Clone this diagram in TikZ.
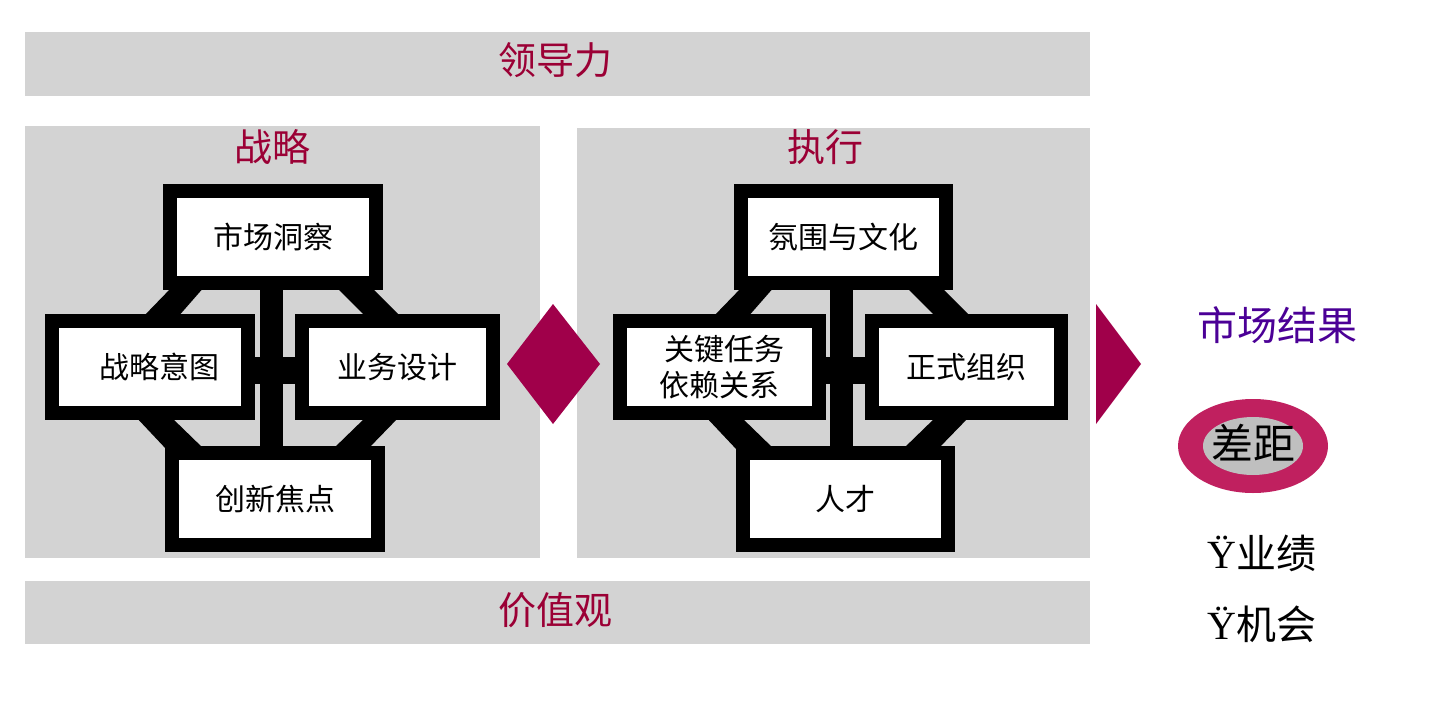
\documentclass[tikz,border=0pt]{standalone}
\usepackage{fontspec}
\setmainfont{Liberation Serif}
\newfontfamily\cjk{Noto Sans CJK SC}
\definecolor{pgray}{HTML}{D3D3D3}
\definecolor{dred}{HTML}{9B0035}
\definecolor{mred}{HTML}{A0004A}
\definecolor{pink}{HTML}{C0205F}
\definecolor{purp}{HTML}{4B0096}
\tikzset{
 panel/.style={fill=pgray,draw=none},
 ttl/.style={text=dred,font=\cjk\fontsize{38}{40}\selectfont,inner sep=0},
 bx/.style={draw=black,line width=14pt,fill=white,inner sep=0,font=\cjk\fontsize{30}{36}\selectfont},
 bar/.style={fill=black,draw=none}
}
\begin{document}
\begin{tikzpicture}[x=1pt,y=-1pt]
\useasboundingbox (0,0) rectangle (1436,728);
\fill[panel] (25,32) rectangle (1090,96);
\node[ttl] (lead) at (555,60) {领导力};
\fill[panel] (25,126) rectangle (540,558);
\fill[panel] (577,128) rectangle (1090,558);
\fill[panel] (25,581) rectangle (1090,644);
\node[ttl] (val) at (555,610) {价值观};
\node[ttl] (s) at (272,147) {战略};
\node[ttl] (e) at (825,147) {执行};
\foreach \dx in {0,570}{
 \begin{scope}[xshift=\dx]
 \fill[bar] (142,318)--(177,318)--(205,286)--(173,286)--cycle;
 \fill[bar] (335,286)--(370,286)--(402,318)--(367,318)--cycle;
 \fill[bar] (135,416)--(170,416)--(205,450)--(167,450)--cycle;
 \fill[bar] (367,416)--(400,416)--(367,450)--(332,450)--cycle;
 \fill[bar] (260,285) rectangle (283,450);
 \fill[bar] (250,357) rectangle (300,384);
 \end{scope}}
\node[bx,minimum width=206pt,minimum height=92pt] (a1) at (273,237) {市场洞察};
\node[bx,minimum width=196pt,minimum height=92pt] (a2) at (150,367) {\hspace{18pt}战略意图};
\node[bx,minimum width=191pt,minimum height=92pt] (a3) at (397.5,367) {业务设计};
\node[bx,minimum width=206pt,minimum height=92pt] (a4) at (275,499) {创新焦点};
\node[bx,minimum width=205pt,minimum height=92pt] (b1) at (843,237) {氛围与文化};
\node[bx,minimum width=199pt,minimum height=92pt,align=center] (b2) at (719.5,367) {\hspace{10pt}关键任务\\依赖关系};
\node[bx,minimum width=189pt,minimum height=92pt] (b3) at (966.5,367) {正式组织};
\node[bx,minimum width=205pt,minimum height=92pt] (b4) at (845,499) {人才};
\fill[mred] (507,364)--(553,304)--(600,364)--(553,424)--cycle;
\fill[mred] (1096,304)--(1141,364)--(1096,424)--cycle;
\node[inner sep=0,text=purp,font=\cjk\fontsize{40}{42}\selectfont] (r) at (1277,325) {市场结果};
\fill[pink] (1253,446) ellipse [x radius=75,y radius=47];
\fill[black!25] (1253,446) ellipse [x radius=50,y radius=29];
\node[inner sep=0,font=\cjk\fontsize{42}{44}\selectfont] (g) at (1253,443) {差距};
\node[inner sep=0,font=\fontsize{40}{42}\selectfont] (p1) at (1262,553) {Ÿ{\cjk 业绩}};
\node[inner sep=0,font=\fontsize{40}{42}\selectfont] (p2) at (1262,624) {Ÿ{\cjk 机会}};
\end{tikzpicture}
\end{document}
